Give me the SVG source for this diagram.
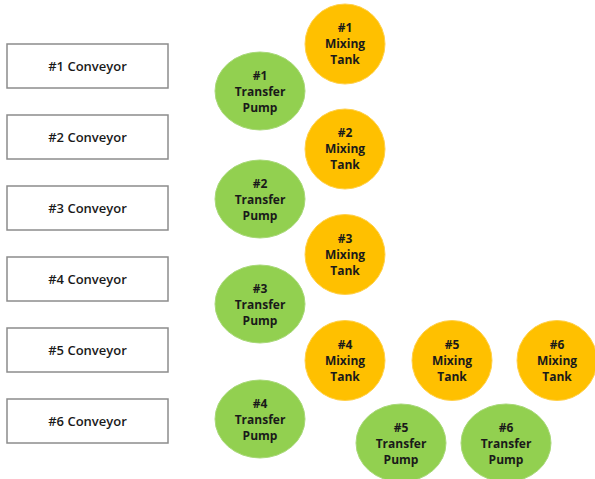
<svg xmlns="http://www.w3.org/2000/svg" width="595" height="479" viewBox="0 0 595 479">
<style>
.box{fill:#fff;stroke:#8c8c8c;stroke-width:1.5}
.pump{fill:#92D050;stroke:#a8d878;stroke-width:1}
.tank{fill:#FFC000;stroke:#ffd04a;stroke-width:1}
text{font-family:"Open Sans","Noto Sans","DejaVu Sans",sans-serif;font-weight:bold;fill:#1a1a1a;text-anchor:middle}
.bt{font-size:13px;font-weight:600}
.ct{font-size:12px}
</style>
<rect width="595" height="479" fill="#fff"/>
<g id="connectors"></g>
<g id="conv1"><rect class="box" x="7" y="44" width="161" height="44"/><text class="bt" x="87.5" y="70.5">#1 Conveyor</text></g>
<g id="conv2"><rect class="box" x="7" y="115" width="161" height="44"/><text class="bt" x="87.5" y="141.5">#2 Conveyor</text></g>
<g id="conv3"><rect class="box" x="7" y="186" width="161" height="44"/><text class="bt" x="87.5" y="212.5">#3 Conveyor</text></g>
<g id="conv4"><rect class="box" x="7" y="257" width="161" height="44"/><text class="bt" x="87.5" y="283.5">#4 Conveyor</text></g>
<g id="conv5"><rect class="box" x="7" y="328" width="161" height="44"/><text class="bt" x="87.5" y="354.5">#5 Conveyor</text></g>
<g id="conv6"><rect class="box" x="7" y="399" width="161" height="44"/><text class="bt" x="87.5" y="425.5">#6 Conveyor</text></g>

<g id="tank1"><circle class="tank" cx="345" cy="44" r="40"/><text class="ct" x="345" y="32">#1</text><text class="ct" x="345" y="48">Mixing</text><text class="ct" x="345" y="64">Tank</text></g>
<g id="tank2"><circle class="tank" cx="345" cy="149" r="40"/><text class="ct" x="345" y="137">#2</text><text class="ct" x="345" y="153">Mixing</text><text class="ct" x="345" y="169">Tank</text></g>
<g id="tank3"><circle class="tank" cx="345" cy="254.5" r="40"/><text class="ct" x="345" y="242.5">#3</text><text class="ct" x="345" y="258.5">Mixing</text><text class="ct" x="345" y="274.5">Tank</text></g>
<g id="tank4"><circle class="tank" cx="345" cy="360.5" r="40"/><text class="ct" x="345" y="348.5">#4</text><text class="ct" x="345" y="364.5">Mixing</text><text class="ct" x="345" y="380.5">Tank</text></g>
<g id="tank5"><circle class="tank" cx="452" cy="360.5" r="40"/><text class="ct" x="452" y="348.5">#5</text><text class="ct" x="452" y="364.5">Mixing</text><text class="ct" x="452" y="380.5">Tank</text></g>
<g id="tank6"><circle class="tank" cx="557" cy="360.5" r="40"/><text class="ct" x="557" y="348.5">#6</text><text class="ct" x="557" y="364.5">Mixing</text><text class="ct" x="557" y="380.5">Tank</text></g>

<g id="pump1"><ellipse class="pump" cx="260" cy="91" rx="45" ry="39"/><text class="ct" x="260" y="80">#1</text><text class="ct" x="260" y="96">Transfer</text><text class="ct" x="260" y="112">Pump</text></g>
<g id="pump2"><ellipse class="pump" cx="260" cy="199" rx="45" ry="39"/><text class="ct" x="260" y="188">#2</text><text class="ct" x="260" y="204">Transfer</text><text class="ct" x="260" y="220">Pump</text></g>
<g id="pump3"><ellipse class="pump" cx="260" cy="304" rx="45" ry="39"/><text class="ct" x="260" y="293">#3</text><text class="ct" x="260" y="309">Transfer</text><text class="ct" x="260" y="325">Pump</text></g>
<g id="pump4"><ellipse class="pump" cx="260" cy="419" rx="45" ry="39"/><text class="ct" x="260" y="408">#4</text><text class="ct" x="260" y="424">Transfer</text><text class="ct" x="260" y="440">Pump</text></g>
<g id="pump5"><ellipse class="pump" cx="401" cy="443" rx="45" ry="39"/><text class="ct" x="401" y="432">#5</text><text class="ct" x="401" y="448">Transfer</text><text class="ct" x="401" y="464">Pump</text></g>
<g id="pump6"><ellipse class="pump" cx="506" cy="443" rx="45" ry="39"/><text class="ct" x="506" y="432">#6</text><text class="ct" x="506" y="448">Transfer</text><text class="ct" x="506" y="464">Pump</text></g>
</svg>
